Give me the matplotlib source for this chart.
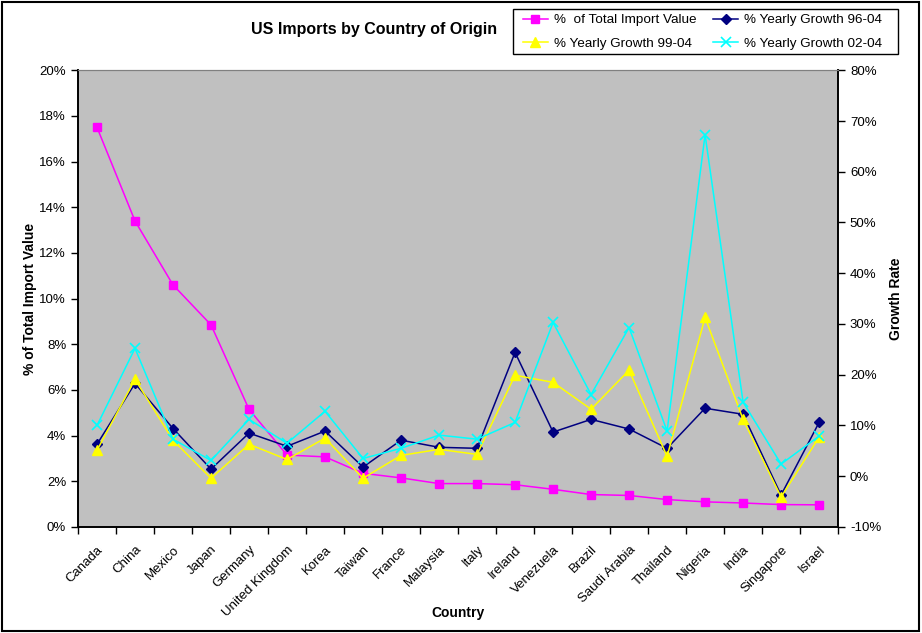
import matplotlib
matplotlib.use("Agg")
import matplotlib.pyplot as plt
from matplotlib.ticker import FuncFormatter, FixedLocator
from matplotlib.patches import Rectangle
from matplotlib.transforms import ScaledTranslation

plt.rcParams['font.family'] = ['Liberation Sans', 'DejaVu Sans']

countries = ["Canada", "China", "Mexico", "Japan", "Germany", "United Kingdom", "Korea",
             "Taiwan", "France", "Malaysia", "Italy", "Ireland", "Venezuela", "Brazil",
             "Saudi Arabia", "Thailand", "Nigeria", "India", "Singapore", "Israel"]
share_total = [17.5, 13.4, 10.6, 8.85, 5.15, 3.15, 3.07, 2.35, 2.15, 1.9, 1.9, 1.85,
               1.65, 1.42, 1.38, 1.2, 1.1, 1.05, 0.98, 0.97]
growth_96_04 = [6.3, 18.3, 9.4, 1.4, 8.5, 5.9, 8.9, 1.8, 7.1, 5.7, 5.5, 24.4,
                8.7, 11.2, 9.3, 5.5, 13.4, 12.2, -3.7, 10.6]
growth_99_04 = [5.1, 19.1, 7.1, -0.4, 6.3, 3.3, 7.5, -0.4, 4.1, 5.3, 4.3, 19.9,
                18.5, 13.2, 20.9, 3.9, 31.3, 11.2, -4.1, 7.7]
growth_02_04 = [10.0, 25.2, 7.3, 3.1, 11.2, 6.5, 12.8, 3.5, 5.5, 8.1, 7.3, 10.6,
                30.3, 16.1, 29.3, 8.9, 67.3, 14.6, 2.4, 7.9]

W, H = 922, 633
fig = plt.figure(figsize=(W / 100, H / 100), dpi=100)
fig.patch.set_facecolor('white')
fig.patches.append(Rectangle((0.002, 0.003), 0.995, 0.994, transform=fig.transFigure,
                             fill=False, edgecolor='black', linewidth=1.5))
# legend box
fig.patches.append(Rectangle((513 / W, 1 - 54 / H), 385 / W, 45 / H, transform=fig.transFigure,
                             facecolor='white', edgecolor='black', linewidth=1.0, zorder=1))

ax = fig.add_axes([0.0846, 0.1675, 0.8244, 0.7215])
ax.set_facecolor('#C0C0C0')
ax2 = ax.twinx()

x = list(range(len(countries)))
l1, = ax.plot(x, share_total, color='#FF00FF', marker='s', markersize=5.8, linewidth=1.1,
              label='%  of Total Import Value')
l2, = ax2.plot(x, growth_96_04, color='#000080', marker='D', markersize=4.6, linewidth=1.1,
               label='% Yearly Growth 96-04')
l3, = ax2.plot(x, growth_99_04, color='#FFFF00', marker='^', markersize=6.5, linewidth=1.1,
               label='% Yearly Growth 99-04')
l4, = ax2.plot(x, growth_02_04, color='#00FFFF', marker='x', markersize=6.5, markeredgewidth=1.2,
               linewidth=1.1, label='% Yearly Growth 02-04')

ax.set_xlim(-0.5, len(countries) - 0.5)
ax.set_ylim(0, 20)
ax.set_yticks(range(0, 21, 2))
ax.yaxis.set_major_formatter(FuncFormatter(lambda v, p: f"{int(v)}%"))
ax2.set_ylim(-10, 80)
ax2.set_yticks(range(-10, 81, 10))
ax2.yaxis.set_major_formatter(FuncFormatter(lambda v, p: f"{int(v)}%"))

ax.set_xticks(x)
ax.set_xticklabels(countries, rotation=45, ha='right', rotation_mode='anchor', fontsize=9.5)
shift = ScaledTranslation(-0.06, 0, fig.dpi_scale_trans)
for lbl in ax.get_xticklabels():
    lbl.set_transform(lbl.get_transform() + shift)
ax.xaxis.set_minor_locator(FixedLocator([i + 0.5 for i in range(-1, len(countries))]))
ax.tick_params(axis='x', which='major', length=0, pad=12)
ax.tick_params(axis='x', which='minor', length=5, direction='out', width=1)
ax.tick_params(axis='y', length=5, direction='out', labelsize=9.5, width=1)
ax2.tick_params(axis='y', length=5, direction='out', labelsize=9.5, width=1)

for a in (ax, ax2):
    a.spines['top'].set_color('#808080')
    a.spines['left'].set_color('black')
    a.spines['bottom'].set_color('black')
    a.spines['right'].set_color('black')
    a.spines['left'].set_linewidth(1.2)
    a.spines['bottom'].set_linewidth(1.2)
    a.spines['right'].set_linewidth(1.2)

ax.set_ylabel('% of Total Import Value', fontsize=10, fontweight='bold', labelpad=1.5)
ax2.set_ylabel('Growth Rate', fontsize=10, fontweight='bold', labelpad=6)
ax.set_xlabel('Country', fontsize=10, fontweight='bold')
ax.xaxis.set_label_coords(0.5, -0.174)

fig.text(0.406, 0.953, 'US Imports by Country of Origin', fontsize=11.5, fontweight='bold',
         ha='center', va='center')

leg = fig.legend(handles=[l1, l3, l2, l4], ncol=2, loc='upper left',
                 bbox_to_anchor=(523 / W, 1 - 14 / H), borderaxespad=0, fontsize=9.7,
                 frameon=False, handlelength=1.85, handletextpad=0.45,
                 columnspacing=1.26, borderpad=0, labelspacing=0.8)
leg.set_zorder(5)

fig.savefig('out.png', dpi=100)
